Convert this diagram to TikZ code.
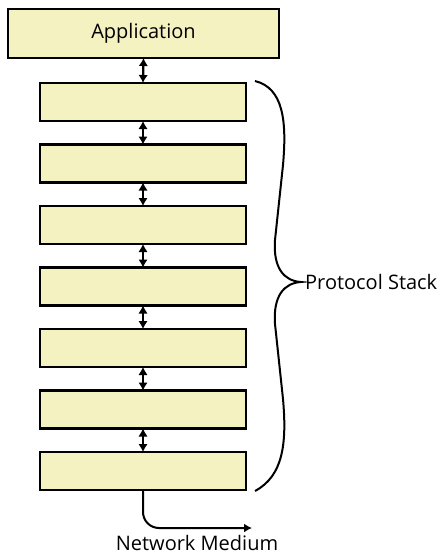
\documentclass[tikz,border=0pt]{standalone}
\usepackage{fontspec}
\setmainfont{Open Sans}
\usetikzlibrary{arrows.meta}
\definecolor{boxfill}{HTML}{F5F2C2}
\begin{document}
\begin{tikzpicture}[x=1pt,y=-1pt,
  layer/.style={draw=black,line width=2.6pt,fill=boxfill,minimum width=206pt,minimum height=38pt,inner sep=0pt,outer sep=0pt},
  dbl/.style={line width=2.2pt,{Latex[length=8pt,width=9.5pt]}-{Latex[length=8pt,width=9.5pt]}},
  lbl/.style={font=\fontsize{20}{24}\selectfont,inner sep=0pt}]
\useasboundingbox (0,0) rectangle (439,554);
\node[layer,minimum width=271pt,minimum height=49pt,lbl] (app) at (143.5,33.5) {Application};
\foreach \i in {1,...,7}{
  \node[layer] (l\i) at (143,{102+61.5*(\i-1)}) {};
}
\draw[dbl] (app.south) -- (l1.north);
\foreach \a/\b in {1/2,2/3,3/4,4/5,5/6,6/7}{
  \draw[dbl] (l\a.south) -- (l\b.north);
}
\coordinate (nmend) at (252,528);
\draw[line width=2pt,rounded corners=16pt,-{Latex[length=8pt,width=9pt]}] (l7.south) |- (nmend);
\node[lbl,anchor=base,text depth=0pt] (nm) at (197,550) {Network Medium};
\coordinate (btop) at (255,81);
\coordinate (btip) at (301,282);
\coordinate (bbot) at (255,491);
\draw[line width=2pt] (btop) .. controls (283,88) and (287,120) .. (283,165)
  -- (275,240) .. controls (273,268) and (284,281) .. (btip)
  .. controls (284,283) and (273,296) .. (275,324)
  -- (283,399) .. controls (287,444) and (283,476) .. (bbot);
\node[lbl,anchor=west] (ps) at (305,282) {Protocol Stack};
\end{tikzpicture}
\end{document}
